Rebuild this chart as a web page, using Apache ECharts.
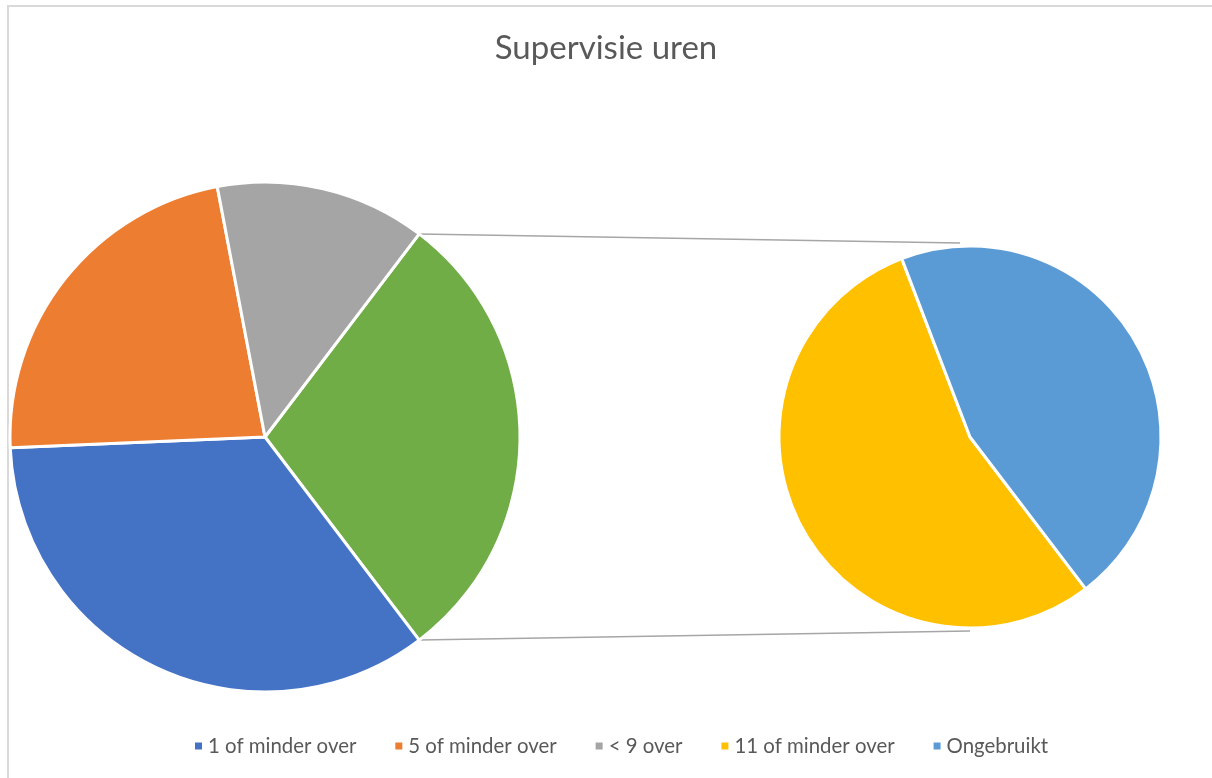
<!DOCTYPE html>
<html>
<head>
<meta charset="utf-8">
<script src="https://cdn.jsdelivr.net/npm/echarts@6/dist/echarts.min.js"></script>
<style>
html,body{margin:0;padding:0;background:#fff;}
#chart{width:1212px;height:778px;}
</style>
</head>
<body>
<div id="chart"></div>
<script>
// ---- data ----
const title = 'Supervisie uren';
const mainCategories = ['1 of minder over', '5 of minder over', '< 9 over'];
const mainValues = [26, 17, 10];
const subCategories = ['11 of minder over', 'Ongebruikt'];
const subValues = [12, 10];
const otherName = 'Overig';

// ---- style ----
const colors = {
  '1 of minder over': '#4472C4',
  '5 of minder over': '#ED7D31',
  '< 9 over': '#A5A5A5',
  '11 of minder over': '#FFC000',
  'Ongebruikt': '#5B9BD5',
  'Overig': '#70AD47'
};
const mainCenter = [265, 437], mainR = 255;
const subCenter = [970, 437], subR = 191;
const subStartAngle = -52.7;

const otherSum = subValues.reduce((a, b) => a + b, 0);
const total = mainValues.reduce((a, b) => a + b, 0) + otherSum;
const otherAngle = otherSum / total * 360;
const mainStart = otherAngle / 2;

const mainData = [{ name: otherName, value: otherSum }].concat(
  mainCategories.map((c, i) => ({ name: c, value: mainValues[i] }))
).map(d => Object.assign(d, { itemStyle: { color: colors[d.name] } }));
const subData = subCategories.map((c, i) => ({ name: c, value: subValues[i], itemStyle: { color: colors[c] } }));

// connector endpoints derived from the other-slice edges and the second pie
const rad = mainStart * Math.PI / 180;
const p1 = [mainCenter[0] + mainR * Math.cos(rad), mainCenter[1] - mainR * Math.sin(rad)];
const p2 = [mainCenter[0] + mainR * Math.cos(rad), mainCenter[1] + mainR * Math.sin(rad)];
const q1 = [subCenter[0] - 10, subCenter[1] - subR - 3];
const q2 = [subCenter[0], subCenter[1] + subR + 3];

const chart = echarts.init(document.getElementById('chart'), null, { renderer: 'canvas' });
chart.setOption({
  animation: false,
  backgroundColor: '#fff',
  title: {
    text: title, left: 'center', top: 27,
    textStyle: { fontFamily: 'Lato', fontSize: 33, fontWeight: 'normal', color: '#595959' }
  },
  legend: {
    data: mainCategories.concat(subCategories),
    bottom: 17, left: 188,
    icon: 'rect', itemWidth: 9, itemHeight: 9, itemGap: 37,
    textStyle: { fontFamily: 'Lato', fontSize: 20.4, color: '#595959' }
  },
  graphic: [
    { type: 'rect', shape: { x: 8, y: 6, width: 1220, height: 800 }, style: { fill: 'none', stroke: '#d9d9d9', lineWidth: 2 }, z: -1 },
    { type: 'line', shape: { x1: p1[0], y1: p1[1], x2: q1[0], y2: q1[1] }, style: { stroke: '#a6a6a6', lineWidth: 1.5 } },
    { type: 'line', shape: { x1: p2[0], y1: p2[1], x2: q2[0], y2: q2[1] }, style: { stroke: '#a6a6a6', lineWidth: 1.5 } }
  ],
  series: [
    {
      type: 'pie', center: mainCenter, radius: [0, mainR], startAngle: mainStart,
      label: { show: false }, labelLine: { show: false }, emphasis: { disabled: true },
      itemStyle: { borderColor: '#fff', borderWidth: 3 },
      data: mainData
    },
    {
      type: 'pie', center: subCenter, radius: [0, subR], startAngle: subStartAngle,
      label: { show: false }, labelLine: { show: false }, emphasis: { disabled: true },
      itemStyle: { borderColor: '#fff', borderWidth: 3 },
      data: subData
    }
  ]
});
</script>
</body>
</html>
